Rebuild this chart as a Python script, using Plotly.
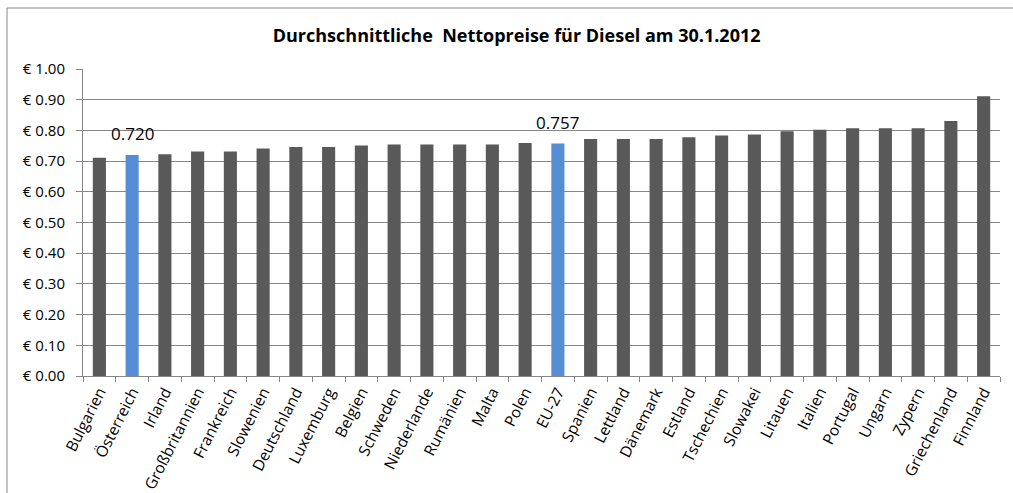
import plotly.graph_objects as go

countries = ["Bulgarien", "Österreich", "Irland", "Großbritannien", "Frankreich", "Slowenien",
             "Deutschland", "Luxemburg", "Belgien", "Schweden", "Niederlande", "Rumänien", "Malta",
             "Polen", "EU-27", "Spanien", "Lettland", "Dänemark", "Estland", "Tschechien", "Slowakei",
             "Litauen", "Italien", "Portugal", "Ungarn", "Zypern", "Griechenland", "Finnland"]
prices = [0.711, 0.720, 0.722, 0.731, 0.731, 0.741, 0.746, 0.746, 0.751, 0.754, 0.754, 0.754, 0.754,
          0.759, 0.757, 0.772, 0.772, 0.772, 0.778, 0.783, 0.787, 0.797, 0.802, 0.807, 0.807, 0.807,
          0.831, 0.911]
highlight = ["Österreich", "EU-27"]
tick_vals = [0.0, 0.1, 0.2, 0.3, 0.4, 0.5, 0.6, 0.7, 0.8, 0.9, 1.0]
tick_text = ["€ 0.00", "€ 0.10", "€ 0.20", "€ 0.30", "€ 0.40", "€ 0.50", "€ 0.60", "€ 0.70",
             "€ 0.80", "€ 0.90", "€ 1.00"]

colors = ["#558ED5" if c in highlight else "#595959" for c in countries]

fig = go.Figure(go.Bar(x=countries, y=prices, marker_color=colors, marker_line_width=0, width=0.4))

for c in highlight:
    v = prices[countries.index(c)]
    fig.add_annotation(x=c, y=v, text=f"{v:.3f}", showarrow=False, yshift=21,
                       font=dict(family="Open Sans", size=17, color="#000000"))

fig.update_layout(
    width=1013, height=493,
    margin=dict(l=83, r=13, t=69, b=117, autoexpand=False),
    paper_bgcolor="white", plot_bgcolor="white",
    showlegend=False,
    title=dict(text="<b>Durchschnittliche  Nettopreise für Diesel am 30.1.2012</b>",
               x=0.51, xanchor="center", y=0.927, yanchor="middle",
               font=dict(family="Open Sans", size=18, color="#000000")),
    font=dict(family="Open Sans", size=15, color="#000000"),
)
fig.update_xaxes(showline=True, linecolor="#868686", linewidth=1, ticks="outside", tickson="boundaries",
                 ticklen=5, tickcolor="#868686", tickangle=-63, showgrid=False, automargin=False,
                 tickfont=dict(family="Open Sans", size=15.5, color="#000000"))
fig.update_yaxes(range=[0, 1.0], tickvals=tick_vals, ticktext=tick_text, showline=True,
                 linecolor="#868686", linewidth=1, ticks="outside", ticklen=6, tickcolor="#868686",
                 showgrid=True, gridcolor="#868686", gridwidth=1, zeroline=False, automargin=False,
                 ticklabelstandoff=8,
                 tickfont=dict(family="Open Sans", size=15, color="#000000"))

# outer chart border (top and left edges visible in the reference)
fig.add_shape(type="line", xref="paper", yref="paper", x0=(7 - 83) / 917, x1=1.02,
              y0=(376 - 8) / 307, y1=(376 - 8) / 307, line=dict(color="#868686", width=1))
fig.add_shape(type="line", xref="paper", yref="paper", x0=(7 - 83) / 917, x1=(7 - 83) / 917,
              y0=(376 - 8) / 307, y1=-0.5, line=dict(color="#868686", width=1))

fig.write_html("out.html")
